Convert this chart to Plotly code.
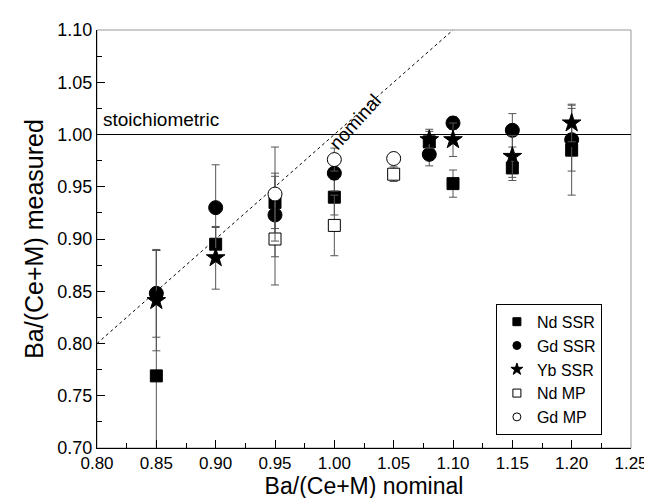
import plotly.graph_objects as go

# Nd SSR (filled squares)
nd_ssr_x = [0.85, 0.90, 0.95, 1.00, 1.08, 1.10, 1.15, 1.20]
nd_ssr_y = [0.769, 0.895, 0.935, 0.940, 0.993, 0.953, 0.968, 0.985]
nd_ssr_err = [0.120, 0.016, 0.025, 0.017, 0.012, 0.013, 0.012, 0.043]

# Gd SSR (filled circles)
gd_ssr_x = [0.85, 0.90, 0.95, 1.00, 1.08, 1.10, 1.15, 1.20]
gd_ssr_y = [0.848, 0.930, 0.923, 0.963, 0.981, 1.011, 1.004, 0.995]
gd_ssr_err = [0.042, 0.041, 0.040, 0.017, 0.011, 0.006, 0.016, 0.030]

# Yb SSR (stars)
yb_ssr_x = [0.85, 0.90, 1.08, 1.10, 1.15, 1.20]
yb_ssr_y = [0.841, 0.882, 0.995, 0.995, 0.979, 1.011]
yb_ssr_err = [0.048, 0.030, 0.008, 0.016, 0.020, 0.018]

# Nd MP (open squares)
nd_mp_x = [0.95, 1.00, 1.05]
nd_mp_y = [0.900, 0.913, 0.962]
nd_mp_err = [0.044, 0.029, 0.007]

# Gd MP (open circles)
gd_mp_x = [0.95, 1.00, 1.05]
gd_mp_y = [0.943, 0.976, 0.977]
gd_mp_err = [0.045, 0.011, 0.004]

nominal_x = [0.80, 1.10]
stoich_x = [0.80, 1.25]
stoich_y = [1.00, 1.00]

series = [
    ("Nd SSR", nd_ssr_x, nd_ssr_y, nd_ssr_err, "square", "black", 12),
    ("Gd SSR", gd_ssr_x, gd_ssr_y, gd_ssr_err, "circle", "black", 14),
    ("Yb SSR", yb_ssr_x, yb_ssr_y, yb_ssr_err, "star", "black", 14),
    ("Nd MP", nd_mp_x, nd_mp_y, nd_mp_err, "square", "white", 12),
    ("Gd MP", gd_mp_x, gd_mp_y, gd_mp_err, "circle", "white", 14),
]

fig = go.Figure()

# reference lines
fig.add_trace(go.Scatter(x=stoich_x, y=stoich_y, mode="lines",
                         line=dict(color="black", width=1), showlegend=False, hoverinfo="skip"))
fig.add_trace(go.Scatter(x=nominal_x, y=nominal_x, mode="lines",
                         line=dict(color="black", width=1, dash="dot"), showlegend=False, hoverinfo="skip"))

for name, xs, ys, errs, sym, fill, size in series:
    fig.add_trace(go.Scatter(
        x=xs, y=ys, mode="markers", name=name, showlegend=False,
        marker=dict(symbol=sym, size=size, color=fill, line=dict(color="black", width=1)),
        error_y=dict(type="data", array=errs, visible=True, color="#555", thickness=1, width=4),
    ))

# small legend-only markers
for name, xs, ys, errs, sym, fill, size in series:
    fig.add_trace(go.Scatter(
        x=[None], y=[None], mode="markers", name=name,
        marker=dict(symbol=sym, size=8 if sym != "star" else 9, color=fill,
                    line=dict(color="black", width=1)),
    ))

font = "Liberation Sans, Arial, sans-serif"

fig.add_annotation(x=0.803, y=1.0, xref="x", yref="y", text="stoichiometric",
                   showarrow=False, xanchor="left", yanchor="bottom", yshift=3,
                   font=dict(size=19, color="black", family=font))
fig.add_annotation(x=1.018, y=1.012, xref="x", yref="y", text="nominal",
                   showarrow=False, textangle=-48,
                   font=dict(size=19, color="black", family=font))

# grey frame on top/right
fig.add_shape(type="rect", xref="paper", yref="paper", x0=0, y0=0, x1=1, y1=1,
              line=dict(color="#999", width=1), layer="below")

fig.update_layout(
    width=652, height=498,
    margin=dict(l=89, r=18, t=20, b=58),
    paper_bgcolor="white", plot_bgcolor="white",
    font=dict(family=font, size=16, color="black"),
    showlegend=True,
    legend=dict(x=0.747, y=0.345, xanchor="left", yanchor="top",
                bgcolor="white", bordercolor="black", borderwidth=1,
                font=dict(size=16, family=font), itemwidth=30,
                tracegroupgap=0),
)
fig.update_xaxes(
    range=[0.80, 1.25], dtick=0.05, tickformat=".2f",
    showgrid=False, zeroline=False, showline=True, linecolor="black", linewidth=1,
    ticks="inside", ticklen=8, tickcolor="black",
    minor=dict(dtick=0.025, ticks="inside", ticklen=5, tickcolor="black"),
    tickfont=dict(size=17, family=font),
    title=dict(text="Ba/(Ce+M) nominal", font=dict(size=23, family=font), standoff=0),
)
fig.update_yaxes(
    range=[0.70, 1.10], dtick=0.05, tickformat=".2f",
    showgrid=False, zeroline=False, showline=True, linecolor="black", linewidth=1,
    ticks="inside", ticklen=8, tickcolor="black",
    minor=dict(dtick=0.025, ticks="inside", ticklen=5, tickcolor="black"),
    tickfont=dict(size=18, family=font),
    title=dict(text="Ba/(Ce+M) measured", font=dict(size=25, family=font), standoff=6),
)

fig.write_html("out.html")
